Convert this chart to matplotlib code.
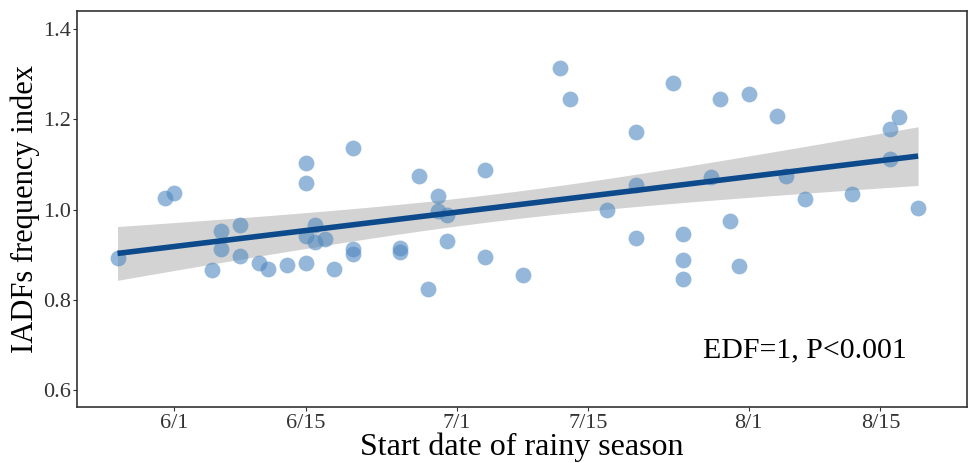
import numpy as np
import matplotlib
matplotlib.use("Agg")
import matplotlib.pyplot as plt

# start date of rainy season, as days after 6/1
start_day = [
    -6, -1, 0, 4, 5, 5, 7, 7, 9, 10, 12, 14, 14, 14, 14, 15, 15, 16, 17,
    19, 19, 19, 24, 24, 26, 27, 28, 28, 29, 29, 33, 33, 37, 41, 42, 46,
    49, 49, 49, 53, 54, 54, 54, 57, 58, 59, 60, 61, 64, 65, 67, 72, 76,
    76, 77, 79,
]
iadf_index = [
    0.892, 1.025, 1.037, 0.866, 0.953, 0.912, 0.965, 0.897, 0.881, 0.869,
    0.877, 1.104, 1.059, 0.942, 0.881, 0.966, 0.927, 0.935, 0.869, 1.136,
    0.913, 0.901, 0.915, 0.906, 1.074, 0.825, 1.030, 0.997, 0.988, 0.930,
    1.088, 0.894, 0.855, 1.313, 1.245, 0.998, 1.171, 1.054, 0.937, 1.279,
    0.946, 0.888, 0.846, 1.073, 1.245, 0.975, 0.875, 1.255, 1.207, 1.075,
    1.023, 1.034, 1.178, 1.111, 1.204, 1.003,
]
tick_days = [0, 14, 30, 44, 61, 75]
tick_labels = ["6/1", "6/15", "7/1", "7/15", "8/1", "8/15"]

x = np.array(start_day, dtype=float)
y = np.array(iadf_index)

# linear fit (EDF=1) with 95% confidence band
n = len(x)
slope, intercept = np.polyfit(x, y, 1)
xs = np.linspace(x.min(), x.max(), 200)
fit = intercept + slope * xs
resid = y - (intercept + slope * x)
s = np.sqrt(np.sum(resid ** 2) / (n - 2))
se = s * np.sqrt(1 / n + (xs - x.mean()) ** 2 / np.sum((x - x.mean()) ** 2))
ci = 2.005 * se

plt.rcParams["font.family"] = ["Liberation Serif", "DejaVu Serif"]

fig, ax = plt.subplots(figsize=(9.7, 4.63), dpi=100)
fig.subplots_adjust(left=0.0794, right=0.997, top=0.976, bottom=0.12)

ax.fill_between(xs, fit - ci, fit + ci, color="#d3d3d3", lw=0, zorder=1)
ax.scatter(x, y, s=130, color="#4f88c0", alpha=0.6, lw=0, zorder=2)
ax.plot(xs, fit, color="#0d4a8c", lw=4, zorder=3, solid_capstyle="butt")

ax.set_xlim(-10.3, 84.2)
ax.set_ylim(0.562, 1.439)
ax.set_xticks(tick_days)
ax.set_xticklabels(tick_labels)
ax.set_yticks([0.6, 0.8, 1.0, 1.2, 1.4])
ax.set_yticklabels(["0.6", "0.8", "1.0", "1.2", "1.4"])
ax.tick_params(labelsize=16, colors="#333333", length=3, width=0.8, pad=1.5)
for sp in ax.spines.values():
    sp.set_color("#333333")
    sp.set_linewidth(1.2)

ax.set_xlabel("Start date of rainy season", fontsize=23, labelpad=0)
ax.set_ylabel("IADFs frequency index", fontsize=22, labelpad=2)
ax.text(0.932, 0.126, "EDF=1, P<0.001", transform=ax.transAxes,
        fontsize=21.5, ha="right", va="baseline")

fig.savefig("out.png", dpi=100)
